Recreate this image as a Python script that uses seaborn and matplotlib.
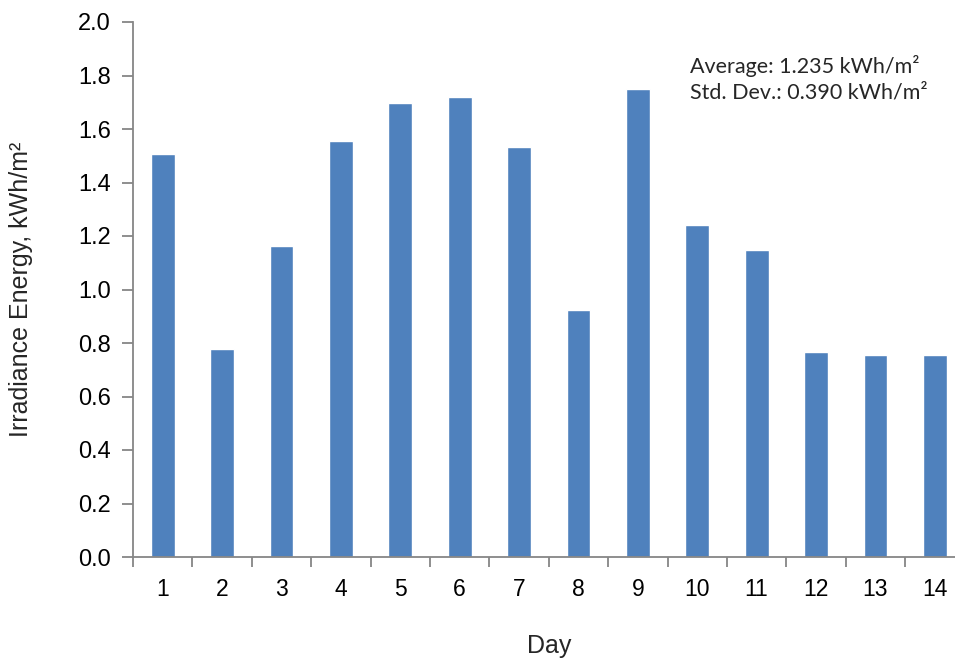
# Daily irradiance energy bar chart

import numpy as np
import pandas as pd
import seaborn as sns
import matplotlib.pyplot as plt

days = [str(d) for d in range(1, 15)]
energy = [1.507, 0.777, 1.164, 1.555, 1.697, 1.718, 1.532,
          0.923, 1.750, 1.241, 1.148, 0.765, 0.754, 0.754]
yTicks = [0.0, 0.2, 0.4, 0.6, 0.8, 1.0, 1.2, 1.4, 1.6, 1.8, 2.0]
statText = 'Average: 1.235 kWh/m\u00b2\nStd. Dev.: 0.390 kWh/m\u00b2'

data = pd.DataFrame(dict(day=days, energy=energy))

sns.set_style('white')
plt.rcParams['font.family'] = ['Liberation Sans', 'DejaVu Sans']

fig = plt.figure(figsize=(9.55, 6.62), dpi=100)
W, H = 955, 662
ax = fig.add_axes([133 / W, (H - 557) / H, 831.5 / W, 535 / H])

sns.barplot(data=data, x='day', y='energy', order=days, color='#4F81BD',
            saturation=1, width=0.4, ax=ax)

ax.set_xlim(-0.5, len(days) - 0.5)
ax.set_ylim(0, 2.0)
ax.set_yticks(yTicks)
ax.set_yticklabels([f'{t:.1f}' for t in yTicks])

# tick marks sit between bars, labels under bars
ax.set_xticks(np.arange(-0.5, len(days)), minor=True)
ax.tick_params(axis='x', which='major', length=0, pad=15, labelsize=16.5, colors='black')
ax.tick_params(axis='x', which='minor', length=7, width=1.3, color='#868686', bottom=True)
ax.tick_params(axis='y', which='major', length=8, width=1.3, color='#868686',
               left=True, pad=8, labelsize=17, labelcolor='black')

for s in ['top', 'right']:
  ax.spines[s].set_visible(False)
for s in ['left', 'bottom']:
  ax.spines[s].set_color('#868686')
  ax.spines[s].set_linewidth(1.3)

ax.set_xlabel('Day', fontsize=18)
ax.set_ylabel('Irradiance Energy, kWh/m\u00b2', fontsize=18)
ax.xaxis.set_label_coords(0.5, -0.143)
ax.yaxis.set_label_coords(-0.12, 0.5)

ax.text(690 / W, (H - 55) / H, statText, transform=fig.transFigure,
        fontsize=15.5, family=['Lato', 'DejaVu Sans'], va='top', ha='left',
        linespacing=1.35)

fig.savefig('out.png', dpi=100)
